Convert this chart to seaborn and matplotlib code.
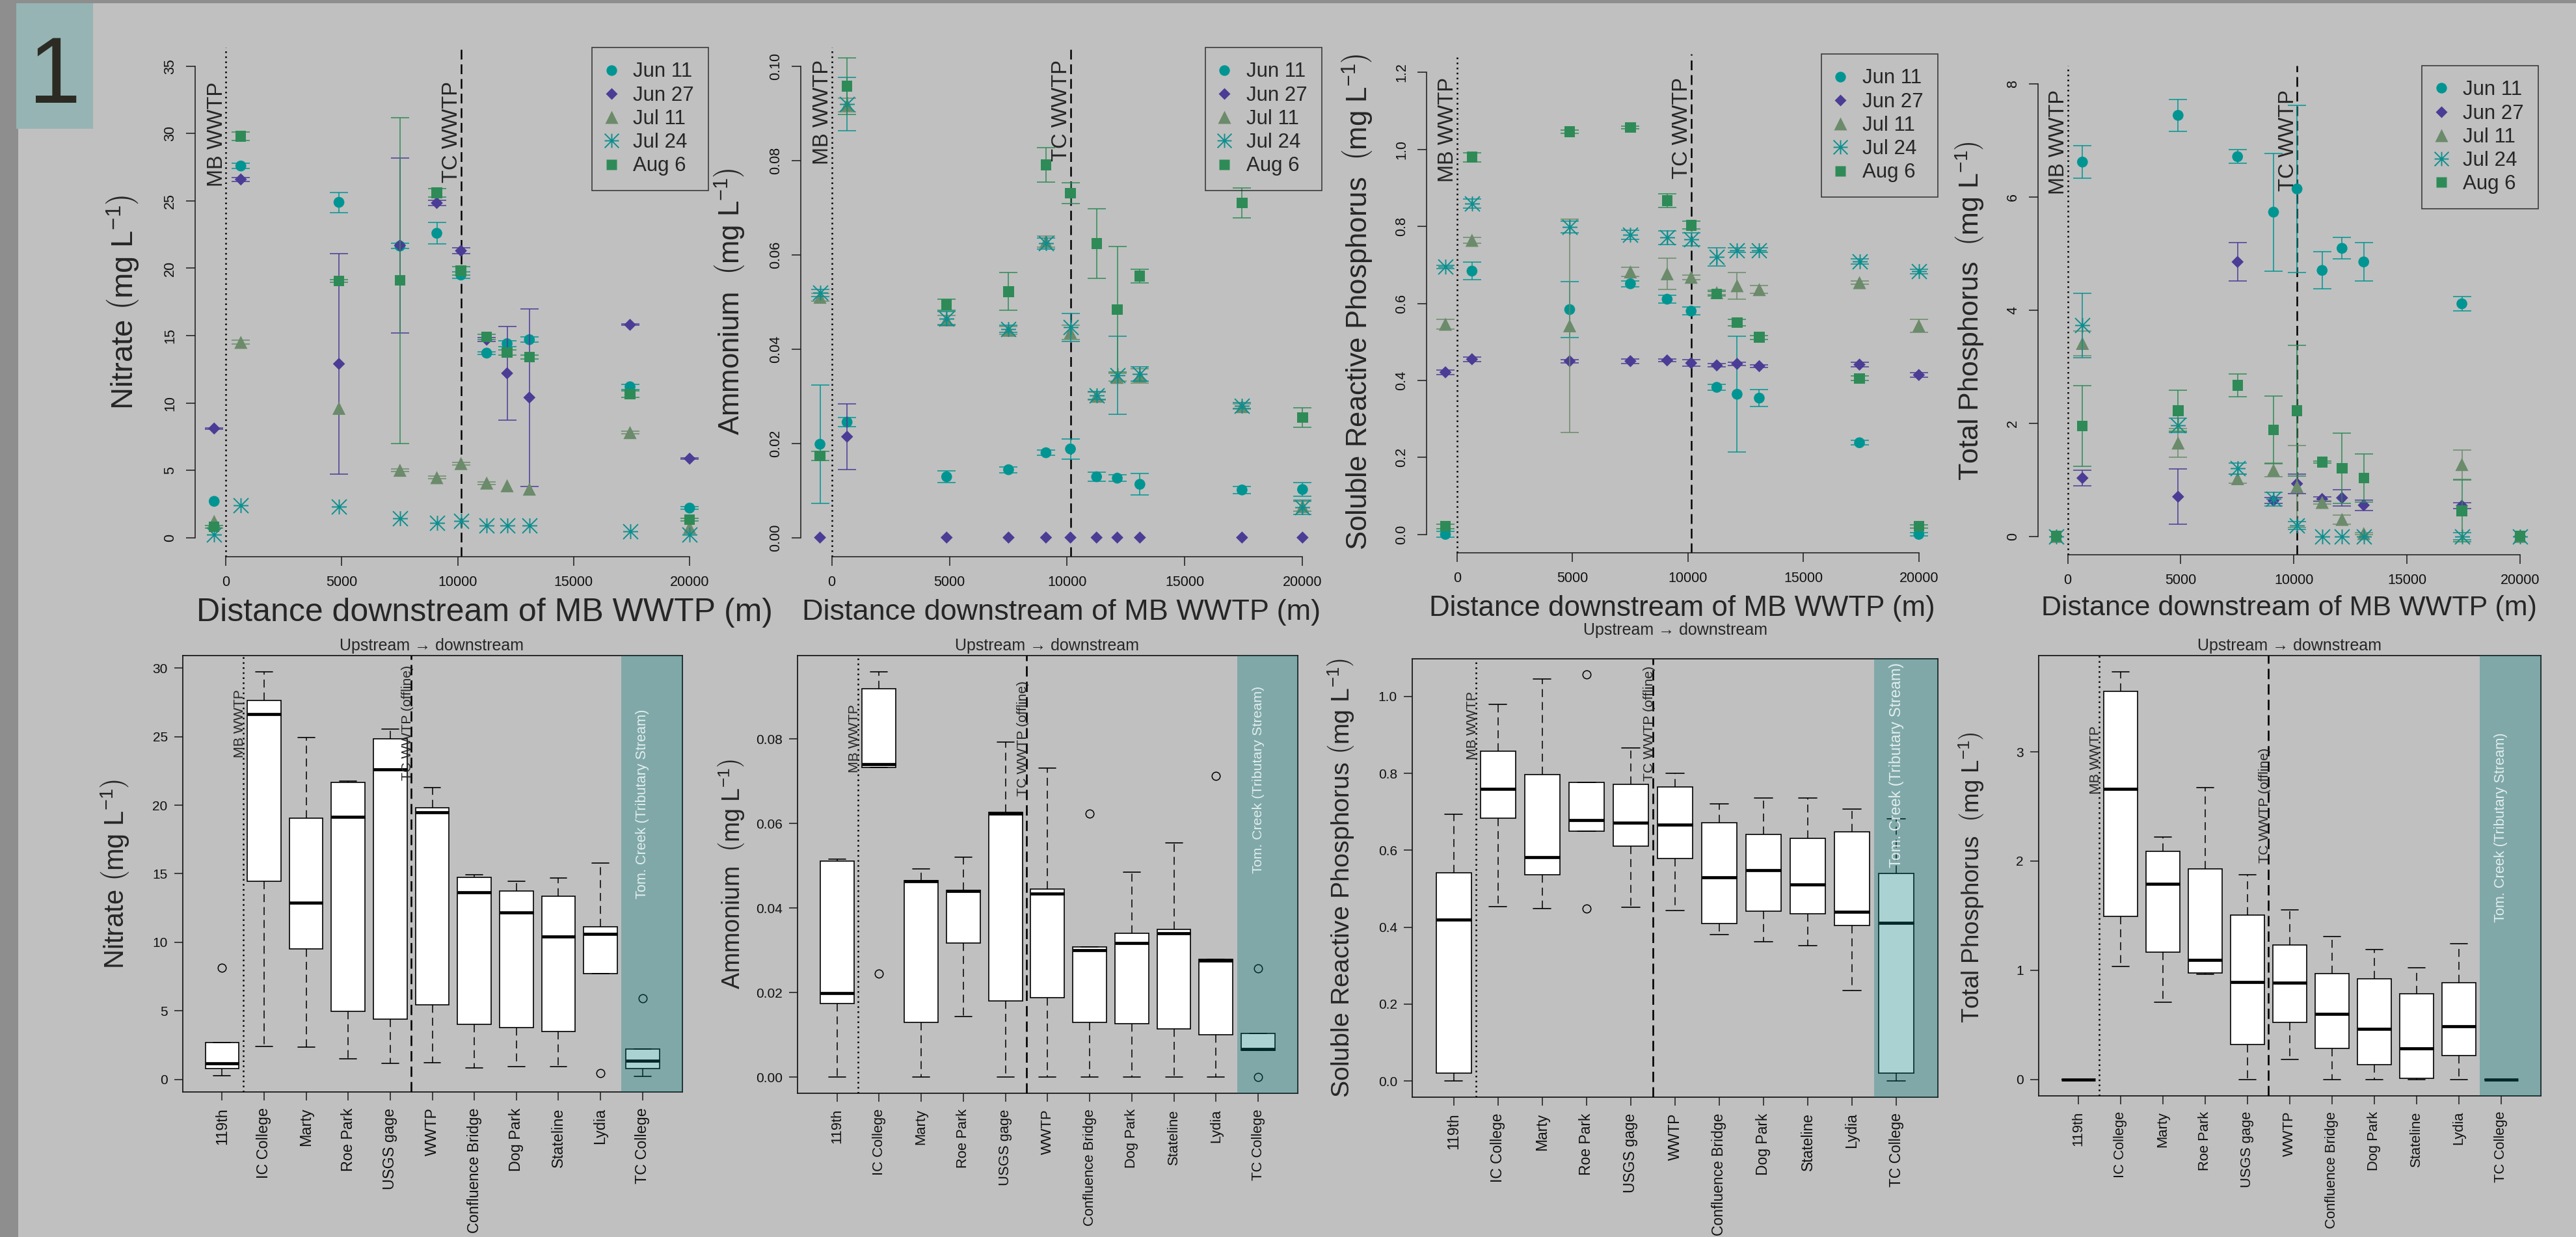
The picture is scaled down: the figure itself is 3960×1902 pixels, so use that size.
import numpy as np
import pandas as pd
import matplotlib
matplotlib.use("Agg")
import matplotlib.pyplot as plt
import matplotlib.transforms as mtrans
import seaborn as sns
from matplotlib.path import Path
from matplotlib.lines import Line2D
from matplotlib.patches import Rectangle

sns.set_style("ticks")
plt.rcParams['font.family'] = ['Liberation Sans', 'DejaVu Sans']
plt.rcParams['mathtext.fontset'] = 'custom'
plt.rcParams['mathtext.rm'] = 'Liberation Sans'
plt.rcParams['mathtext.it'] = 'Liberation Sans:italic'
plt.rcParams['mathtext.bf'] = 'Liberation Sans:bold'

# ------------------------------------------------------------------ data
SITES = ["119th", "IC College", "Marty", "Roe Park", "USGS gage", "WWTP",
         "Confluence Bridge", "Dog Park", "Stateline", "Lydia", "TC College"]
DIST_M = [-500, 650, 4880, 7510, 9100, 10140, 11250, 12130, 13090, 17430, 20000]
DATES = ["Jun 11", "Jun 27", "Jul 11", "Jul 24", "Aug 6"]
MB_WWTP_M = 0
TC_WWTP_M = 10140

# Nitrate (mg/L), mean and error half-width per sampling date
NO3_JUN11 = [2.69, 27.6, 24.9, 21.65, 22.6, 19.5, 13.7, 14.4, 14.7, 11.2, 2.19]
NO3_JUN11_SE = [0.0, 0.2, 0.75, 0.2, 0.8, 0.25, 0.1, 0.2, 0.2, 0.2, 0.1]
NO3_JUN27 = [8.1, 26.6, 12.9, 21.7, 24.85, 21.3, 14.7, 12.2, 10.4, 15.8, 5.86]
NO3_JUN27_SE = [0.05, 0.15, 8.2, 6.5, 0.2, 0.2, 0.15, 3.5, 6.6, 0.05, 0.05]
NO3_JUL11 = [1.2, 14.5, 9.6, 5.0, 4.45, 5.5, 4.05, 3.85, 3.6, 7.8, 0.74]
NO3_JUL11_SE = [0.0, 0.15, 0.0, 0.1, 0.1, 0.1, 0.1, 0.0, 0.0, 0.1, 0.0]
NO3_JUL24 = [0.2, 2.4, 2.3, 1.45, 1.1, 1.25, 0.9, 0.9, 0.9, 0.45, 0.21]
NO3_JUL24_SE = [0.0, 0.0, 0.0, 0.0, 0.0, 0.0, 0.0, 0.0, 0.0, 0.0, 0.0]
NO3_AUG6 = [0.8, 29.8, 19.05, 19.1, 25.6, 19.8, 14.9, 13.75, 13.4, 10.65, 1.33]
NO3_AUG6_SE = [0.1, 0.3, 0.1, 12.1, 0.3, 0.3, 0.2, 0.2, 0.15, 0.25, 0.1]

# Ammonium (mg/L)
NH4_JUN11 = [0.0198, 0.0245, 0.0129, 0.0144, 0.0180, 0.0188, 0.0129, 0.0126, 0.0113, 0.0101, 0.0102]
NH4_JUN11_SE = [0.0125, 0.0010, 0.0013, 0.0006, 0.0005, 0.0021, 0.0010, 0.0007, 0.0023, 0.0008, 0.0015]
NH4_JUN27 = [0.0, 0.0214, 0.0, 0.0, 0.0, 0.0, 0.0, 0.0, 0.0, 0.0, 0.0]
NH4_JUN27_SE = [0.0, 0.0070, 0.0, 0.0, 0.0, 0.0, 0.0, 0.0, 0.0, 0.0, 0.0]
NH4_JUL11 = [0.0510, 0.0918, 0.0462, 0.0440, 0.0628, 0.0435, 0.0300, 0.0340, 0.0343, 0.0278, 0.0066]
NH4_JUL11_SE = [0.0008, 0.0015, 0.0010, 0.0008, 0.0012, 0.0015, 0.0008, 0.0008, 0.0015, 0.0005, 0.0010]
NH4_JUL24 = [0.0519, 0.0920, 0.0465, 0.0443, 0.0624, 0.0446, 0.0302, 0.0344, 0.0347, 0.0280, 0.0064]
NH4_JUL24_SE = [0.0008, 0.0057, 0.0015, 0.0008, 0.0012, 0.0030, 0.0008, 0.0083, 0.0015, 0.0006, 0.0015]
NH4_AUG6 = [0.0173, 0.0958, 0.0494, 0.0522, 0.0791, 0.0731, 0.0624, 0.0484, 0.0555, 0.0710, 0.0255]
NH4_AUG6_SE = [0.0010, 0.0060, 0.0012, 0.0040, 0.0037, 0.0022, 0.0074, 0.0133, 0.0014, 0.0032, 0.0021]

# Soluble reactive phosphorus (mg/L)
SRP_JUN11 = [0.0, 0.684, 0.584, 0.651, 0.611, 0.580, 0.382, 0.364, 0.354, 0.238, 0.0]
SRP_JUN11_SE = [0.008, 0.023, 0.072, 0.008, 0.010, 0.010, 0.008, 0.150, 0.022, 0.006, 0.004]
SRP_JUN27 = [0.421, 0.455, 0.450, 0.450, 0.452, 0.445, 0.439, 0.443, 0.437, 0.441, 0.414]
SRP_JUN27_SE = [0.006, 0.006, 0.004, 0.006, 0.004, 0.008, 0.004, 0.004, 0.004, 0.006, 0.006]
SRP_JUL11 = [0.546, 0.764, 0.542, 0.682, 0.677, 0.668, 0.628, 0.646, 0.636, 0.654, 0.542]
SRP_JUL11_SE = [0.012, 0.008, 0.277, 0.012, 0.040, 0.006, 0.006, 0.035, 0.010, 0.004, 0.017]
SRP_JUL24 = [0.695, 0.859, 0.799, 0.778, 0.771, 0.766, 0.721, 0.738, 0.738, 0.709, 0.683]
SRP_JUL24_SE = [0.004, 0.012, 0.015, 0.012, 0.018, 0.017, 0.023, 0.006, 0.006, 0.006, 0.006]
SRP_AUG6 = [0.021, 0.980, 1.046, 1.057, 0.867, 0.803, 0.625, 0.550, 0.512, 0.405, 0.021]
SRP_AUG6_SE = [0.006, 0.012, 0.004, 0.004, 0.018, 0.010, 0.006, 0.008, 0.005, 0.006, 0.004]

# Total phosphorus (mg/L)
TP_JUN11 = [0.0, 6.615, 7.44, 6.71, 5.73, 6.14, 4.70, 5.09, 4.85, 4.11, 0.0]
TP_JUN11_SE = [0.0, 0.29, 0.28, 0.12, 1.04, 1.48, 0.33, 0.19, 0.34, 0.13, 0.0]
TP_JUN27 = [0.0, 1.03, 0.70, 4.85, 0.63, 0.93, 0.66, 0.68, 0.55, 0.54, 0.0]
TP_JUN27_SE = [0.0, 0.14, 0.49, 0.34, 0.05, 0.17, 0.04, 0.14, 0.09, 0.05, 0.0]
TP_JUL11 = [0.0, 3.41, 1.65, 1.02, 1.17, 0.88, 0.60, 0.30, 0.05, 1.27, 0.0]
TP_JUL11_SE = [0.0, 0.22, 0.25, 0.08, 0.12, 0.72, 0.03, 0.08, 0.02, 0.26, 0.0]
TP_JUL24 = [0.0, 3.73, 1.96, 1.20, 0.66, 0.19, 0.0, 0.0, 0.0, 0.0, 0.0]
TP_JUL24_SE = [0.0, 0.57, 0.13, 0.10, 0.12, 0.07, 0.0, 0.0, 0.0, 0.06, 0.0]
TP_AUG6 = [0.0, 1.95, 2.22, 2.67, 1.88, 2.22, 1.31, 1.20, 1.03, 0.45, 0.0]
TP_AUG6_SE = [0.0, 0.71, 0.36, 0.20, 0.60, 1.15, 0.02, 0.62, 0.43, 0.55, 0.0]

# Box-plot samples per site (order of SITES)
NO3_BOX = [[0.28, 0.77, 1.17, 2.68, 8.12], [2.42, 14.47, 26.67, 27.64, 29.74],
           [2.36, 9.52, 12.9, 19.06, 24.96], [1.48, 4.96, 19.17, 21.65, 21.74],
           [1.14, 4.39, 22.62, 24.87, 25.58], [1.23, 5.44, 19.49, 19.8, 21.31],
           [0.85, 3.99, 13.65, 14.73, 14.93], [0.94, 3.76, 12.19, 13.73, 14.44],
           [0.91, 3.48, 10.43, 13.36, 14.67], [0.43, 7.69, 10.63, 11.14, 15.78],
           [0.23, 0.77, 1.37, 2.19, 5.9]]
NH4_BOX = [[0.0, 0.0174, 0.0198, 0.0511, 0.0516], [0.0245, 0.0732, 0.0740, 0.0919, 0.0959],
           [0.0, 0.0129, 0.0463, 0.0465, 0.0493], [0.0144, 0.0317, 0.0440, 0.0442, 0.0521],
           [0.0, 0.0181, 0.0623, 0.0627, 0.0792], [0.0, 0.0188, 0.0434, 0.0445, 0.0731],
           [0.0, 0.0129, 0.0300, 0.0308, 0.0624], [0.0, 0.0127, 0.0317, 0.0341, 0.0485],
           [0.0, 0.0114, 0.0340, 0.0350, 0.0554], [0.0, 0.0101, 0.0276, 0.0278, 0.0712],
           [0.0, 0.0064, 0.0066, 0.0103, 0.0257]]
SRP_BOX = [[0.0, 0.020, 0.420, 0.542, 0.693], [0.454, 0.683, 0.760, 0.857, 0.980],
           [0.448, 0.537, 0.582, 0.797, 1.046], [0.448, 0.650, 0.679, 0.776, 1.057],
           [0.451, 0.611, 0.672, 0.771, 0.866], [0.443, 0.579, 0.666, 0.765, 0.800],
           [0.380, 0.409, 0.530, 0.672, 0.721], [0.363, 0.441, 0.548, 0.641, 0.736],
           [0.352, 0.435, 0.511, 0.631, 0.736], [0.236, 0.404, 0.440, 0.648, 0.707],
           [0.0, 0.020, 0.412, 0.540, 0.682]]
TP_BOX = [[0.0, 0.0, 0.0, 0.0, 0.0], [1.035, 1.493, 2.664, 3.555, 3.734],
          [0.705, 1.164, 1.790, 2.087, 2.220], [0.963, 0.977, 1.092, 1.930, 2.675],
          [0.0, 0.319, 0.892, 1.504, 1.873], [0.183, 0.523, 0.888, 1.228, 1.550],
          [0.0, 0.286, 0.602, 0.970, 1.307], [0.0, 0.132, 0.462, 0.920, 1.192],
          [0.0, 0.011, 0.283, 0.781, 1.020], [0.0, 0.218, 0.487, 0.888, 1.242],
          [0.0, 0.0, 0.0, 0.0, 0.0]]

# ------------------------------------------------------------------ styles
W, H, DPI = 3960, 1902, 100
BG = '#C0C0C0'
DATE_COLORS = ['#009592', '#4B3C96', '#6B8B6B', '#0D8F8F', '#2E8B57']
ASTERISK = Path([(-1, 0), (1, 0), (0, -1), (0, 1), (-1, -1), (1, 1), (-1, 1), (1, -1)],
                [Path.MOVETO, Path.LINETO] * 4)
MARKERS = ['o', 'D', '^', ASTERISK, 's']
MSIZE = [12.0, 9.5, 14.5, 16.5, 11.8]       # points
LINEART = [False, False, False, True, False]

fig = plt.figure(figsize=(W / DPI, H / DPI), dpi=DPI, facecolor=BG)

def add_ax(x0, y0, x1, y1):
    ax = fig.add_axes([x0 / W, 1 - y1 / H, (x1 - x0) / W, (y1 - y0) / H])
    ax.set_facecolor('none')
    return ax

def ftext(x, y, s, **kw):
    return fig.text(x / W, 1 - y / H, s, **kw)

# frame decorations
fig.patches.append(Rectangle((0, 0), 28 / W, 1, transform=fig.transFigure,
                             facecolor='#8E8E8E', edgecolor='none', zorder=0))
fig.patches.append(Rectangle((0, 1 - 5 / H), 1, 5 / H, transform=fig.transFigure,
                             facecolor='#8E8E8E', edgecolor='none', zorder=0))
fig.patches.append(Rectangle((25 / W, 1 - 198 / H), 118 / W, 193 / H, transform=fig.transFigure,
                             facecolor='#96B4B4', edgecolor='none', zorder=1))
ftext(84, 158, "1", fontsize=104, ha='center', va='baseline', color='#2B2B24')

def legend_handles():
    hs = []
    for c, m, ms, la in zip(DATE_COLORS, MARKERS, MSIZE, LINEART):
        if la:
            hs.append(Line2D([], [], ls='none', marker=m, markersize=ms * 0.95,
                             markeredgecolor=c, markerfacecolor='none', markeredgewidth=1.4))
        else:
            hs.append(Line2D([], [], ls='none', marker=m, markersize=ms * 0.98,
                             markeredgecolor='none', markerfacecolor=c))
    return hs

def draw_top(ax, means, errs, ylim, yticks, ylabs, txt_top):
    ax.set_xlim(-1320, 20820)
    ax.set_ylim(*ylim)
    ax.axvline(MB_WWTP_M, color='black', lw=1.8, ls=(0, (1, 2.1)), zorder=2)
    ax.axvline(TC_WWTP_M, color='black', lw=1.8, ls=(0, (6, 3)), zorder=2)
    for i in range(5):
        c = DATE_COLORS[i]
        df = pd.DataFrame({'dist': DIST_M, 'val': means[i], 'err': errs[i]})
        kw = dict(marker=MARKERS[i], s=MSIZE[i] ** 2, color=c, zorder=3 + 2 * i, legend=False)
        if LINEART[i]:
            kw.update(edgecolor=c, linewidth=1.4)
        else:
            kw.update(edgecolor='none', linewidth=0)
        sns.scatterplot(data=df, x='dist', y='val', ax=ax, **kw)
        e = df[df['err'] > 0]
        ax.errorbar(e['dist'], e['val'], yerr=e['err'], fmt='none', ecolor=c,
                    elinewidth=1.1, capsize=10, capthick=1.1, zorder=4 + 2 * i)
    ax.set_xlabel('')
    ax.set_ylabel('')
    for sp in ['top', 'right']:
        ax.spines[sp].set_visible(False)
    for sp in ['left', 'bottom']:
        ax.spines[sp].set_linewidth(1.1)
        ax.spines[sp].set_color('#1A1A1A')
    ax.spines['left'].set_bounds(yticks[0], yticks[-1])
    ax.spines['bottom'].set_bounds(0, 20000)
    ax.set_xticks([0, 5000, 10000, 15000, 20000])
    ax.set_xticklabels(['0', '5000', '10000', '15000', '20000'])
    ax.set_yticks(yticks)
    ax.set_yticklabels(ylabs, rotation=90, va='center')
    ax.tick_params(axis='both', direction='out', length=10, width=1.1, color='#1A1A1A',
                   labelsize=15.5, labelcolor='#111111')
    ax.tick_params(axis='x', pad=11)
    ax.tick_params(axis='y', pad=10)
    tr = mtrans.blended_transform_factory(ax.transData, ax.transAxes)
    ax.text(MB_WWTP_M - 150, txt_top, "MB WWTP", rotation=90, rotation_mode='anchor',
            ha='right', va='baseline', fontsize=23.5, transform=tr, zorder=20)
    ax.text(TC_WWTP_M - 150, txt_top, "TC WWTP", rotation=90, rotation_mode='anchor',
            ha='right', va='baseline', fontsize=23.5, transform=tr, zorder=20)
    leg = ax.legend(legend_handles(), DATES, loc='upper right', bbox_to_anchor=(1, 1),
                    borderaxespad=0, frameon=True, fancybox=False, edgecolor='#1A1A1A',
                    facecolor='none', fontsize=22.5, borderpad=0.72, labelspacing=0.2,
                    handlelength=0.45, handletextpad=0.85)
    leg.get_frame().set_linewidth(1.2)
    leg.set_zorder(30)

def draw_box(ax, boxdata, ylim, yticks, ylabs, mb_y, tc_y, tom_y, tom_fs, xt_fs):
    rows = [(SITES[i], v) for i in range(len(SITES)) for v in boxdata[i]]
    df = pd.DataFrame(rows, columns=['site', 'value'])
    sns.boxplot(data=df, x='site', y='value', order=SITES, ax=ax, color='white',
                saturation=1, width=0.8, linecolor='black', linewidth=1.2, whis=1.5,
                flierprops=dict(marker='o', markerfacecolor='none', markeredgecolor='black',
                                markersize=9, markeredgewidth=1.1),
                whiskerprops=dict(linestyle=(0, (8, 5)), linewidth=1.1),
                medianprops=dict(linewidth=3.4, color='black'),
                capprops=dict(linewidth=1.2))
    ax.set_xlim(-0.94, 10.94)
    ax.set_ylim(*ylim)
    ax.set_xlabel('')
    ax.set_ylabel('')
    ax.axvline(0.5, color='black', lw=1.8, ls=(0, (1, 2.1)), zorder=5)
    ax.axvline(4.5, color='black', lw=1.9, ls=(0, (6, 3)), zorder=5)
    ax.axvspan(9.5, 10.94, facecolor=(0, 120 / 255, 120 / 255), alpha=0.333, lw=0, zorder=10)
    for sp in ax.spines.values():
        sp.set_linewidth(1.3)
        sp.set_color('#1A1A1A')
    ax.set_xticks(range(len(SITES)))
    ax.set_xticklabels(SITES, rotation=90, fontsize=xt_fs)
    ax.set_yticks(yticks)
    ax.set_yticklabels(ylabs, fontsize=15)
    ax.tick_params(axis='both', direction='out', length=9.5, width=1.1, color='#1A1A1A',
                   labelcolor='#111111')
    ax.tick_params(axis='x', pad=8)
    ax.tick_params(axis='y', pad=7)
    tr = mtrans.blended_transform_factory(ax.transData, ax.transAxes)
    ax.text(0.5, mb_y, "MB WWTP", rotation=90, rotation_mode='anchor', ha='center',
            va='baseline', fontsize=15.3, transform=tr, zorder=12)
    ax.text(4.5, tc_y, "TC WWTP (offline)", rotation=90, rotation_mode='anchor', ha='center',
            va='baseline', fontsize=15.3, transform=tr, zorder=12)
    ax.text(10, tom_y, "Tom. Creek (Tributary Stream)", rotation=90, rotation_mode='anchor',
            ha='center', va='center', fontsize=tom_fs, color='#E2EEEE', transform=tr, zorder=12)

UNIT = r"$\left(\mathrm{mg\ L^{-1}}\right)$"

# ------------------------------------------------------------------ top row
ax1 = add_ax(300, 73.0, 1089.4, 855.5)
draw_top(ax1, [NO3_JUN11, NO3_JUN27, NO3_JUL11, NO3_JUL24, NO3_AUG6],
         [NO3_JUN11_SE, NO3_JUN27_SE, NO3_JUL11_SE, NO3_JUL24_SE, NO3_AUG6_SE],
         (-1.4, 36.4), [0, 5, 10, 15, 20, 25, 30, 35], ['0', '5', '10', '15', '20', '25', '30', '35'], 0.933)
ax2 = add_ax(1230.9, 73.0, 2032, 855.5)
draw_top(ax2, [NH4_JUN11, NH4_JUN27, NH4_JUL11, NH4_JUL24, NH4_AUG6],
         [NH4_JUN11_SE, NH4_JUN27_SE, NH4_JUL11_SE, NH4_JUL24_SE, NH4_AUG6_SE],
         (-0.004, 0.104), [0, 0.02, 0.04, 0.06, 0.08, 0.10], ['0.00', '0.02', '0.04', '0.06', '0.08', '0.10'], 0.976)
ax3 = add_ax(2192.9, 83.0, 2978.9, 850.0)
draw_top(ax3, [SRP_JUN11, SRP_JUN27, SRP_JUL11, SRP_JUL24, SRP_AUG6],
         [SRP_JUN11_SE, SRP_JUN27_SE, SRP_JUL11_SE, SRP_JUL24_SE, SRP_AUG6_SE],
         (-0.048, 1.248), [0, 0.2, 0.4, 0.6, 0.8, 1.0, 1.2], ['0.0', '0.2', '0.4', '0.6', '0.8', '1.0', '1.2'], 0.953)
ax4 = add_ax(3132.8, 100.8, 3902.4, 852.5)
draw_top(ax4, [TP_JUN11, TP_JUN27, TP_JUL11, TP_JUL24, TP_AUG6],
         [TP_JUN11_SE, TP_JUN27_SE, TP_JUL11_SE, TP_JUL24_SE, TP_AUG6_SE],
         (-0.32, 8.32), [0, 2, 4, 6, 8], ['0', '2', '4', '6', '8'], 0.951)

XLAB = "Distance downstream of MB WWTP (m)"
ftext(745, 942, XLAB, fontsize=36, ha='center', va='center')
ftext(1632, 941, XLAB, fontsize=32.4, ha='center', va='center')
ftext(2586, 935, XLAB, fontsize=31.6, ha='center', va='center')
ftext(3519, 935, XLAB, fontsize=31, ha='center', va='center')
ftext(189, 465, "Nitrate " + UNIT, fontsize=34, rotation=90, ha='center', va='center')
ftext(1121, 464, "Ammonium  " + UNIT, fontsize=31.5, rotation=90, ha='center', va='center')
ftext(2086, 464, "Soluble Reactive Phosphorus  " + UNIT, fontsize=31.5, rotation=90, ha='center', va='center')
ftext(3028, 477.6, "Total Phosphorus  " + UNIT, fontsize=31, rotation=90, ha='center', va='center')

# ------------------------------------------------------------------ bottom row
ax5 = add_ax(280.6, 1008.1, 1048.5, 1679.1)
draw_box(ax5, NO3_BOX, (-0.93, 30.92), [0, 5, 10, 15, 20, 25, 30],
         ['0', '5', '10', '15', '20', '25', '30'], 0.845, 0.846, 0.66, 15.6, 16.8)
ax6 = add_ax(1225.8, 1008.1, 1994.9, 1680.9)
draw_box(ax6, NH4_BOX, (-0.0038, 0.0997), [0, 0.02, 0.04, 0.06, 0.08],
         ['0.00', '0.02', '0.04', '0.06', '0.08'], 0.81, 0.811, 0.716, 15.4, 15.8)
ax7 = add_ax(2170.9, 1012.9, 2979, 1687.0)
draw_box(ax7, SRP_BOX, (-0.042, 1.098), [0, 0.2, 0.4, 0.6, 0.8, 1.0],
         ['0.0', '0.2', '0.4', '0.6', '0.8', '1.0'], 0.848, 0.853, 0.757, 16.8, 16.5)
ax8 = add_ax(3133.5, 1008.1, 3905.8, 1684.5)
draw_box(ax8, TP_BOX, (-0.149, 3.883), [0, 1, 2, 3],
         ['0', '1', '2', '3'], 0.763, 0.66, 0.609, 15.6, 15.8)

TITLE = "Upstream \u2192 downstream"
ftext(663, 993, TITLE, fontsize=18, ha='center', va='center')
ftext(1610, 993, TITLE, fontsize=18, ha='center', va='center')
ftext(2575, 969, TITLE, fontsize=18, ha='center', va='center')
ftext(3520, 993, TITLE, fontsize=18, ha='center', va='center')
ftext(177, 1344.5, "Nitrate " + UNIT, fontsize=30, rotation=90, ha='center', va='center')
ftext(1124, 1344.5, "Ammonium  " + UNIT, fontsize=27, rotation=90, ha='center', va='center')
ftext(2061, 1350.5, "Soluble Reactive Phosphorus " + UNIT, fontsize=28.4, rotation=90, ha='center', va='center')
ftext(3031, 1349, "Total Phosphorus  " + UNIT, fontsize=26.5, rotation=90, ha='center', va='center')

fig.savefig("out.png", dpi=DPI, facecolor=BG)
